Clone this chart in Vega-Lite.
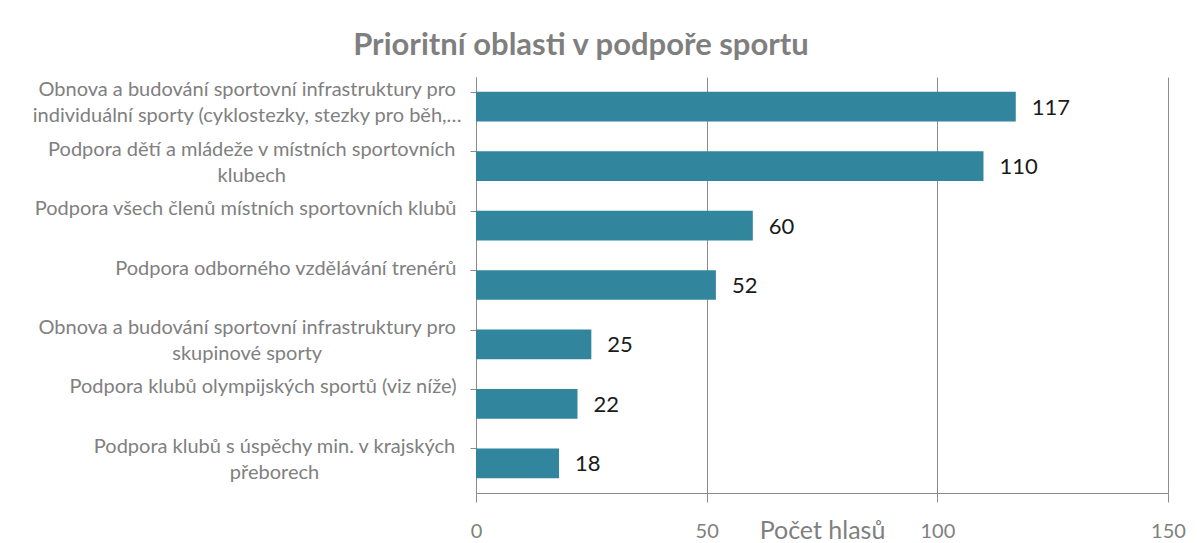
{
  "$schema": "https://vega.github.io/schema/vega-lite/v6.json",
  "width": 692,
  "height": 416,
  "autosize": "none",
  "padding": {"left": 476, "top": 77, "right": 29, "bottom": 50},
  "background": "white",
  "config": {"view": {"stroke": null}, "font": "Lato"},
  "title": {
    "text": "Prioritní oblasti v podpoře sportu",
    "font": "Lato",
    "fontSize": 31,
    "fontWeight": "bold",
    "color": "#7f7f7f",
    "anchor": "middle",
    "frame": "group",
    "baseline": "alphabetic",
    "offset": -9,
    "dx": -241
  },
  "data": {
    "values": [
      {"oblast": "Obnova a budování sportovní infrastruktury pro|individuální sporty (cyklostezky, stezky pro běh,…", "hlasy": 117},
      {"oblast": "Podpora dětí a mládeže v místních sportovních|klubech", "hlasy": 110},
      {"oblast": "Podpora všech členů místních sportovních klubů", "hlasy": 60},
      {"oblast": "Podpora odborného vzdělávání trenérů", "hlasy": 52},
      {"oblast": "Obnova a budování sportovní infrastruktury pro|skupinové sporty", "hlasy": 25},
      {"oblast": "Podpora klubů olympijských sportů (viz níže)", "hlasy": 22},
      {"oblast": "Podpora klubů s úspěchy min. v krajských|přeborech", "hlasy": 18}
    ]
  },
  "layer": [
    {
      "mark": {"type": "bar", "color": "#31859C"},
      "encoding": {
        "y": {
          "field": "oblast",
          "type": "nominal",
          "sort": null,
          "scale": {"paddingInner": 0.5, "paddingOuter": 0.25},
          "axis": {
            "title": null,
            "labelExpr": "split(datum.label, '|')",
            "labelFont": "Lato",
            "labelFontSize": 20,
            "labelColor": "#808080",
            "labelLimit": 0,
            "labelAlign": {"expr": "indexof(datum.value, '|') < 0 ? 'right' : 'center'"},
            "labelPadding": {"expr": "indexof(datum.value, '|') < 0 ? 14 : 14 + 4.55 * length(split(datum.value, '|')[0])"},
            "labelBaseline": "top",
            "labelOffset": -12.14,
            "labelLineHeight": 26,
            "ticks": true,
            "tickSize": 6,
            "tickColor": "#8c8c8c",
            "tickOffset": -14.86,
            "domain": true,
            "domainColor": "#8c8c8c",
            "domainWidth": 1
          }
        },
        "x": {
          "field": "hlasy",
          "type": "quantitative",
          "scale": {"domain": [0, 150], "nice": false},
          "axis": {
            "values": [0, 50, 100, 150],
            "title": "Počet hlasů",
            "titleFont": "Lato",
            "titleFontSize": 25,
            "titleFontWeight": "normal",
            "titleColor": "#808080",
            "titleX": 346,
            "titleY": 45,
            "titleBaseline": "alphabetic",
            "titleAnchor": "middle",
            "labelFont": "Lato",
            "labelFontSize": 20,
            "labelColor": "#808080",
            "labelBaseline": "alphabetic",
            "labelPadding": 35,
            "labelFlush": false,
            "tickSize": 9,
            "tickColor": "#8c8c8c",
            "domainColor": "#8c8c8c",
            "grid": true,
            "gridColor": "#8c8c8c",
            "gridWidth": 1
          }
        }
      }
    },
    {
      "mark": {"type": "text", "align": "left", "baseline": "middle", "dx": 16, "dy": 1, "fontSize": 22, "font": "Lato", "color": "#1a1a1a"},
      "encoding": {
        "y": {"field": "oblast", "type": "nominal", "sort": null},
        "x": {"field": "hlasy", "type": "quantitative"},
        "text": {"field": "hlasy", "type": "quantitative"}
      }
    }
  ]
}
